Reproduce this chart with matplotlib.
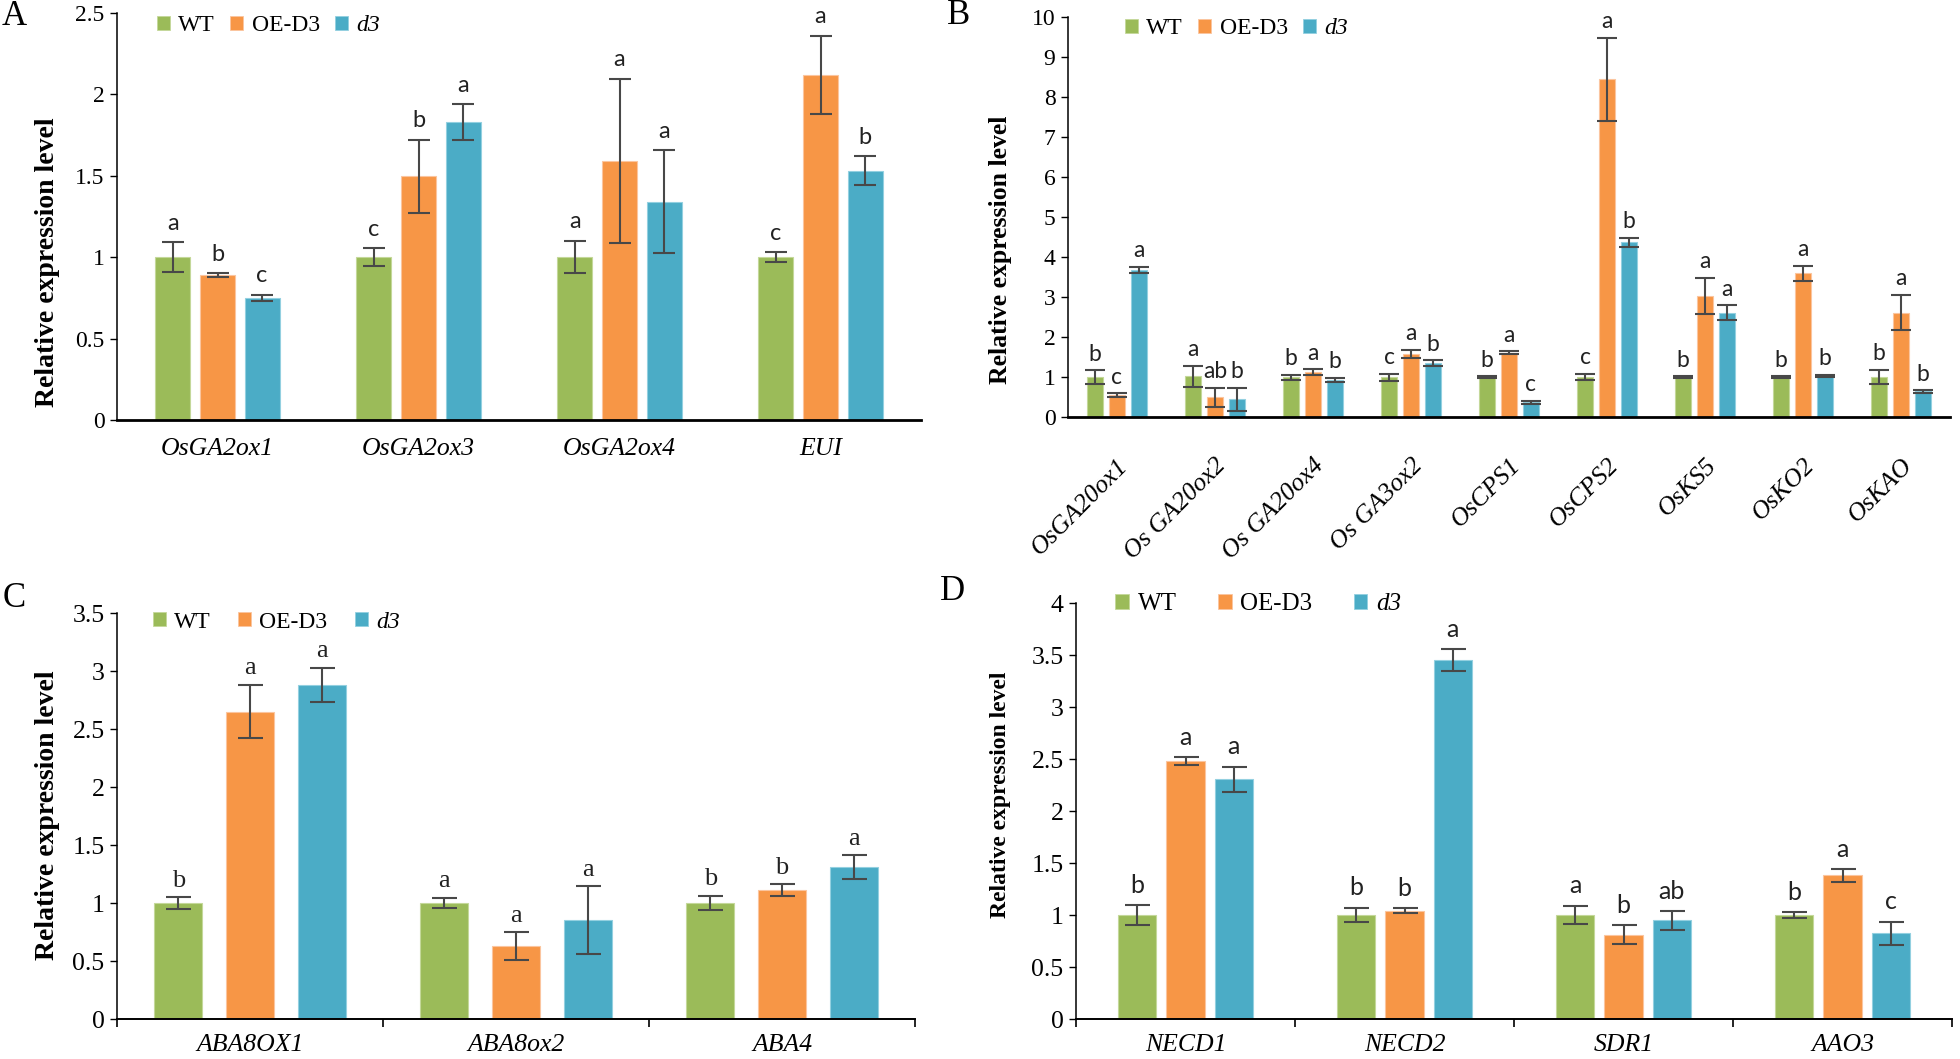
import matplotlib
matplotlib.use("Agg")
import matplotlib.pyplot as plt
from matplotlib.patches import Patch
from matplotlib.ticker import FuncFormatter
import numpy as np

plt.rcParams["font.family"] = ["Liberation Serif", "DejaVu Serif"]

# ---------------- data ----------------
series_names = ["WT", "OE-D3", "d3"]
colors = ["#9BBB59", "#F79646", "#4BACC6"]
edge_colors = ["#C4D89A", "#FBC59F", "#93D0E0"]

A_genes = ["OsGA2ox1", "OsGA2ox3", "OsGA2ox4", "EUI"]
A_wt = [1.00, 1.00, 1.00, 1.00]
A_wt_err = [0.09, 0.055, 0.10, 0.03]
A_oe = [0.89, 1.495, 1.59, 2.12]
A_oe_err = [0.01, 0.225, 0.505, 0.24]
A_d3 = [0.75, 1.83, 1.34, 1.53]
A_d3_err = [0.02, 0.11, 0.317, 0.088]
A_wt_let = ["a", "c", "a", "c"]
A_oe_let = ["b", "b", "a", "a"]
A_d3_let = ["c", "a", "a", "b"]
A_ticks = [0, 0.5, 1, 1.5, 2, 2.5]

B_genes = ["OsGA20ox1", "Os GA20ox2", "Os GA20ox4", "Os GA3ox2", "OsCPS1",
           "OsCPS2", "OsKS5", "OsKO2", "OsKAO"]
B_wt = [1.00, 1.02, 0.99, 0.99, 1.00, 1.00, 1.00, 1.00, 1.00]
B_wt_err = [0.165, 0.265, 0.06, 0.09, 0.02, 0.075, 0.02, 0.02, 0.175]
B_oe = [0.55, 0.49, 1.12, 1.58, 1.61, 8.44, 3.03, 3.59, 2.61]
B_oe_err = [0.04, 0.245, 0.075, 0.10, 0.03, 1.04, 0.445, 0.185, 0.44]
B_d3 = [3.68, 0.44, 0.92, 1.35, 0.37, 4.37, 2.61, 1.03, 0.64]
B_d3_err = [0.07, 0.29, 0.055, 0.065, 0.035, 0.115, 0.18, 0.02, 0.03]
B_wt_let = ["b", "a", "b", "c", "b", "c", "b", "b", "b"]
B_oe_let = ["c", "ab", "a", "a", "a", "a", "a", "a", "a"]
B_d3_let = ["a", "b", "b", "b", "c", "b", "a", "b", "b"]
B_ticks = [0, 1, 2, 3, 4, 5, 6, 7, 8, 9, 10]

C_genes = ["ABA8OX1", "ABA8ox2", "ABA4"]
C_wt = [1.00, 1.00, 1.00]
C_wt_err = [0.05, 0.045, 0.06]
C_oe = [2.65, 0.626, 1.11]
C_oe_err = [0.23, 0.12, 0.05]
C_d3 = [2.88, 0.853, 1.31]
C_d3_err = [0.15, 0.29, 0.10]
C_wt_let = ["b", "a", "b"]
C_oe_let = ["a", "a", "b"]
C_d3_let = ["a", "a", "a"]
C_ticks = [0, 0.5, 1, 1.5, 2, 2.5, 3, 3.5]

D_genes = ["NECD1", "NECD2", "SDR1", "AAO3"]
D_wt = [1.00, 1.00, 1.00, 1.00]
D_wt_err = [0.095, 0.07, 0.09, 0.03]
D_oe = [2.48, 1.04, 0.81, 1.38]
D_oe_err = [0.04, 0.025, 0.09, 0.06]
D_d3 = [2.305, 3.45, 0.95, 0.825]
D_d3_err = [0.12, 0.105, 0.09, 0.11]
D_wt_let = ["b", "b", "a", "b"]
D_oe_let = ["a", "b", "b", "a"]
D_d3_let = ["a", "a", "ab", "c"]
D_ticks = [0, 0.5, 1, 1.5, 2, 2.5, 3, 3.5, 4]

# ---------------- figure ----------------
W, H = 1960, 1059
DPI = 100
fig = plt.figure(figsize=(W / DPI, H / DPI), dpi=DPI)
SERIF = "Liberation Serif"
SANS = "Lato"


def fx(x):
    return x / W


def fy(y):
    return 1 - y / H


fmt = FuncFormatter(lambda v, p: ("%g" % v))


def panel(box, genes, vals, errs, lets, ticks, step, width, cfg):
    left, right, zero_y, top_y = box
    ax = fig.add_axes([fx(left), fy(zero_y), (right - left) / W, (zero_y - top_y) / H])
    n = len(genes)
    centers = np.arange(n) + 0.5
    ymax = ticks[-1]
    for k in range(3):
        xs = centers + (k - 1) * step
        ax.bar(xs, vals[k], width=width, color=colors[k], edgecolor=edge_colors[k],
               linewidth=0.8, zorder=2)
        ax.errorbar(xs, vals[k], yerr=errs[k], fmt="none", ecolor="#484848",
                    elinewidth=1.5, capsize=cfg["capsize"], capthick=1.5, zorder=3)
        for x, v, e, t in zip(xs, vals[k], errs[k], lets[k]):
            ax.annotate(t, (x, v + e), xytext=(0, cfg["let_off"]), textcoords="offset points",
                        ha="center", va="bottom", fontsize=cfg["let_size"],
                        family=cfg["let_font"], color="#222222", zorder=4)
    ax.set_xlim(0, n)
    ax.set_ylim(0, ymax)
    ax.set_yticks(ticks)
    ax.yaxis.set_major_formatter(fmt)
    for s in ["top", "right"]:
        ax.spines[s].set_visible(False)
    ax.spines["left"].set_linewidth(1.1)
    ax.spines["bottom"].set_linewidth(cfg["bottom_lw"])
    ax.spines["bottom"].set_zorder(5)
    ax.tick_params(axis="y", direction="out", length=5, width=1.0,
                   labelsize=cfg["ytick_size"], pad=4)
    ax.set_xticks(centers)
    if cfg.get("rot"):
        ax.set_xticklabels(genes, rotation=cfg["rot"], ha="right", va="top",
                           rotation_mode="anchor", fontsize=cfg["xlab_size"],
                           family=SERIF, style="italic")
        ax.tick_params(axis="x", length=0, pad=cfg["xpad"])
    else:
        ax.set_xticklabels(genes, fontsize=cfg["xlab_size"], family=SERIF, style="italic")
        ax.tick_params(axis="x", length=0, pad=cfg["xpad"])
    if cfg.get("bound_ticks"):
        ax.set_xticks(np.arange(n + 1), minor=True)
        ax.tick_params(axis="x", which="minor", direction="out", length=6, width=1.2)
    # legend
    handles = [Patch(facecolor=colors[k], edgecolor=edge_colors[k], linewidth=0.6)
               for k in range(3)]
    lx, ly = cfg["leg_pos"]
    leg = ax.legend(handles, series_names, ncol=3, frameon=False,
                    loc="center left", bbox_to_anchor=(fx(lx), fy(ly)),
                    bbox_transform=fig.transFigure, borderpad=0, borderaxespad=0,
                    handlelength=0.55, handleheight=0.55, handletextpad=0.35,
                    columnspacing=cfg["colsp"],
                    prop={"family": SERIF, "size": cfg["leg_size"]})
    leg.get_texts()[2].set_style("italic")
    # y label
    yl_x, yl_y = cfg["ylab_pos"]
    fig.text(fx(yl_x), fy(yl_y), "Relative expression level", rotation=90,
             ha="center", va="center", family=SERIF, weight="bold",
             fontsize=cfg["ylab_size"])
    # panel letter
    px, py = cfg["panel_pos"]
    fig.text(fx(px), fy(py), cfg["panel"], ha="left", va="baseline",
             family=SERIF, fontsize=25)
    return ax


base = dict(capsize=8, let_off=6, let_size=17, let_font=SANS, bottom_lw=2.0,
            ytick_size=17, xlab_size=18.5, xpad=13, colsp=0.65, leg_size=17)

cfgA = dict(base, leg_pos=(157, 25.5), ylab_pos=(47, 262), ylab_size=20,
            panel="A", panel_pos=(2, 25))
panel((117, 921, 420, 12.7), A_genes, [A_wt, A_oe, A_d3], [A_wt_err, A_oe_err, A_d3_err],
      [A_wt_let, A_oe_let, A_d3_let], A_ticks, 0.222, 0.174, cfgA)

cfgB = dict(base, capsize=7, rot=45, xpad=27, let_off=4, let_size=16.5,
            leg_pos=(1125, 29), ylab_pos=(1000, 250),
            ylab_size=18.5, panel="B", panel_pos=(947, 24))
panel((1068, 1950, 417, 17), B_genes, [B_wt, B_oe, B_d3], [B_wt_err, B_oe_err, B_d3_err],
      [B_wt_let, B_oe_let, B_d3_let], B_ticks, 0.224, 0.163, cfgB)

cfgC = dict(base, capsize=9, let_font=SERIF, let_size=19, let_off=4, bottom_lw=1.4,
            ytick_size=18.5, xpad=11, bound_ticks=True, colsp=1.15, leg_pos=(153, 622),
            ylab_pos=(47, 815), ylab_size=20, panel="C", panel_pos=(3, 607))
panel((117, 915, 1019, 613), C_genes, [C_wt, C_oe, C_d3], [C_wt_err, C_oe_err, C_d3_err],
      [C_wt_let, C_oe_let, C_d3_let], C_ticks, 0.27, 0.18, cfgC)

cfgD = dict(base, capsize=9, let_size=18, let_off=6, bottom_lw=1.4, ytick_size=18.5,
            xpad=11, bound_ticks=True, colsp=1.65, leg_size=18, leg_pos=(1115, 604),
            ylab_pos=(1000, 795), ylab_size=17, panel="D", panel_pos=(940, 600))
panel((1076, 1952, 1019, 603), D_genes, [D_wt, D_oe, D_d3], [D_wt_err, D_oe_err, D_d3_err],
      [D_wt_let, D_oe_let, D_d3_let], D_ticks, 0.221, 0.174, cfgD)

fig.savefig("out.png", dpi=DPI, facecolor="white")
